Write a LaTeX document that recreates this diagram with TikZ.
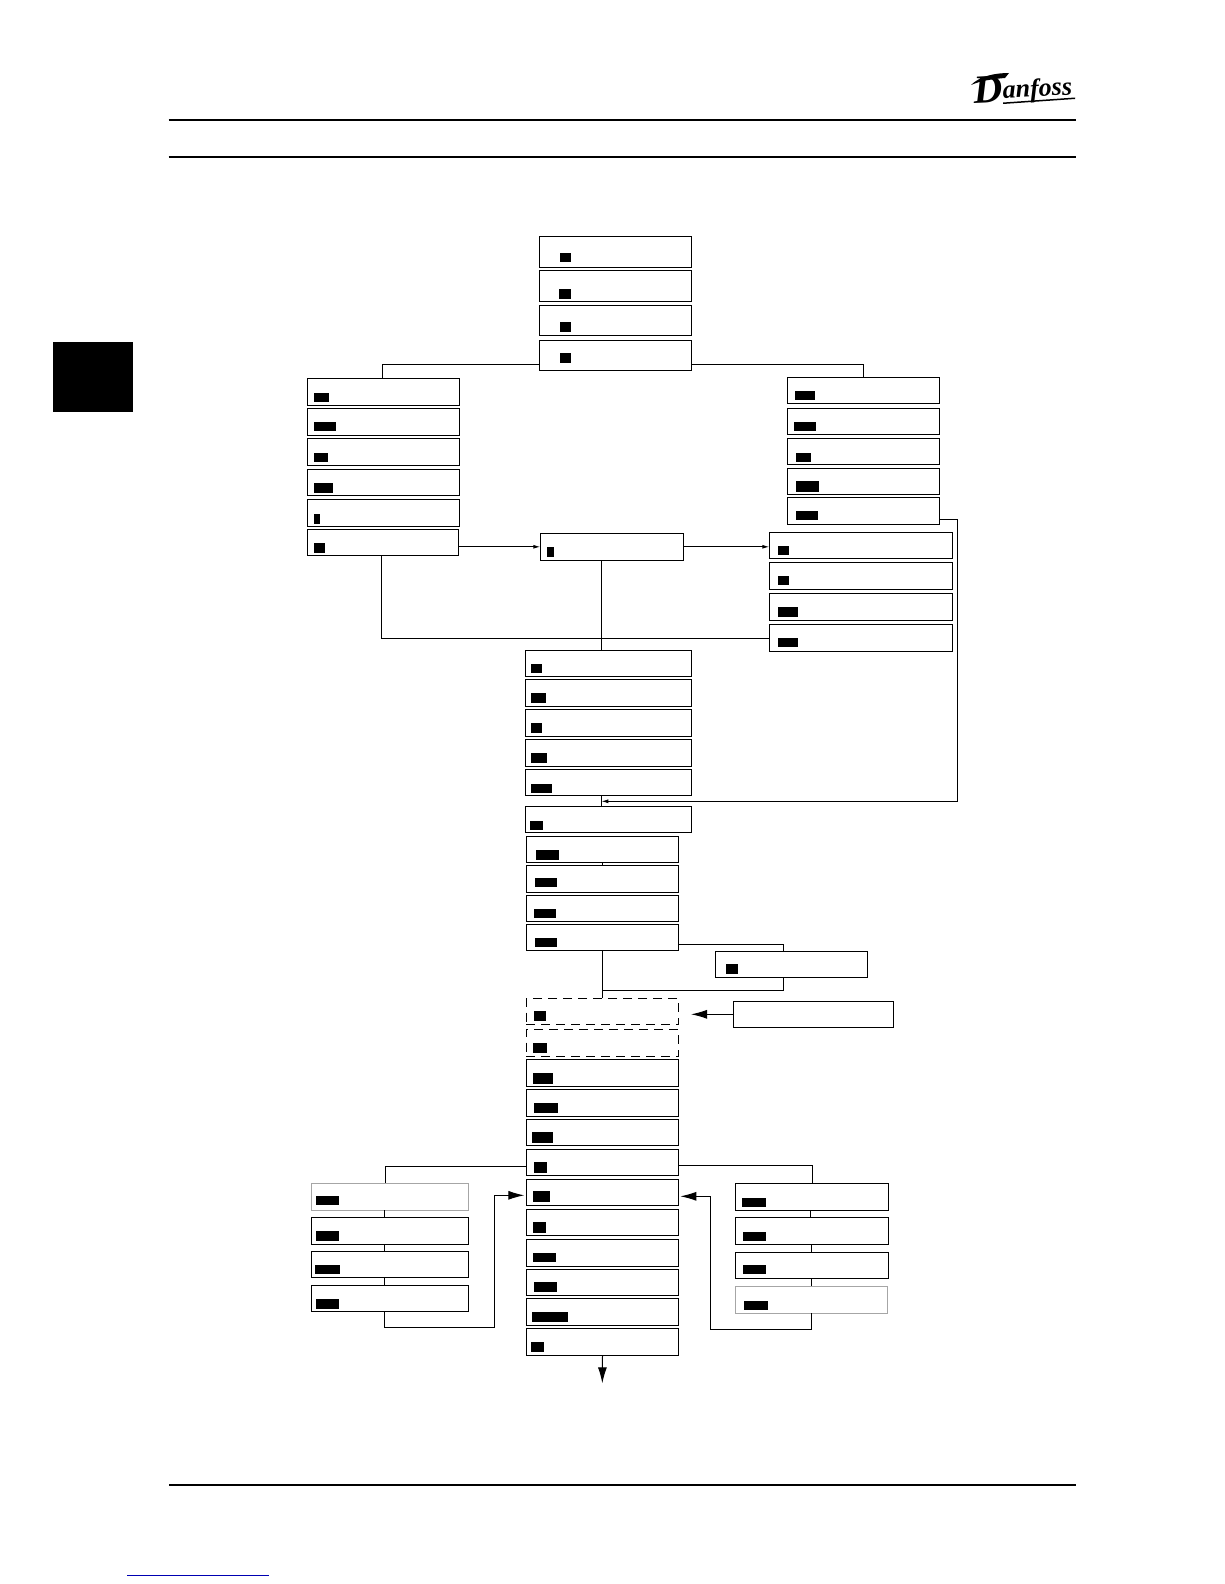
\documentclass[tikz,border=0pt]{standalone}
\usepackage{fontspec}
\usepackage{xcolor}
\usepackage{tikz}
\usetikzlibrary{arrows.meta,positioning}
\newfontfamily\logofont{Liberation Serif}

\begin{document}
\begin{tikzpicture}[
  x=1pt,y=-1pt,
  line width=1pt,
  box/.style={draw,inner sep=0pt,outer sep=0pt,minimum height=#1pt},
  topbox/.style={box=#1,minimum width=152.4pt},
  leftbox/.style={box=#1,minimum width=152.4pt},
  rightbox/.style={box=#1,minimum width=152pt},
  widebox/.style={box=#1,minimum width=183.4pt},
  midbox/.style={box=#1,minimum width=166.4pt},
  lowbox/.style={box=#1,minimum width=152.4pt},
  dashbox/.style={lowbox=#1,dash pattern=on 9pt off 6pt},
  bar/.style 2 args={fill=black,inner sep=0pt,outer sep=0pt,anchor=south west,minimum width=#1pt,minimum height=#2pt},
  small/.style={-{Latex[length=7pt,width=4pt]}},
  big/.style={-{Latex[length=16pt,width=9pt]}},
  rule/.style={line width=2pt}
]
\useasboundingbox (0,0) rectangle (1224,1584);
\node[fill=black,inner sep=0pt,anchor=north west,minimum width=80pt,minimum height=70pt] (tab) at (52,341) {};
\draw[rule] (168.7,120) -- (1076,120);
\draw[rule] (168.7,156.7) -- (1076,156.7);
\draw[rule] (169,1485) -- (1076,1485);
\draw[blue!70!black] (127,1575.3) -- (269,1575.3);
\node[inner sep=0pt,anchor=base west,rotate=3,font=\logofont\bfseries\itshape] (logo) at (974,104) {\fontsize{40}{40}\selectfont D\raisebox{4pt}{\fontsize{26}{26}\selectfont anfoss}};
\fill (971,85) .. controls (980,76) and (995,73) .. (1009,73) -- (1005,78) .. controls (992,79) and (980,81) .. (971,85) -- cycle;
\fill (1003,102.5) -- (1075,97.5) -- (1075,99) -- (1003,104) -- cycle;
\node[topbox=31.4,anchor=north west] (t1) at (539.3,236.3) {};
\node[topbox=31,below=2.6pt of t1] (t2) {};
\node[topbox=30,below=4pt of t2] (t3) {};
\node[topbox=30,below=5pt of t3] (t4) {};
\node[leftbox=27,anchor=north west] (l1) at (307.3,378.3) {};
\node[leftbox=27,below=3pt of l1] (l2) {};
\node[leftbox=27,below=3pt of l2] (l3) {};
\node[leftbox=26,below=4pt of l3] (l4) {};
\node[leftbox=27,below=4pt of l4] (l5) {};
\node[box=26,minimum width=151.4pt,below=3pt of l5,xshift=-0.5pt] (l6) {};
\node[rightbox=26,anchor=north west] (r1) at (787.3,377.3) {};
\node[rightbox=26,below=5pt of r1] (r2) {};
\node[rightbox=26,below=4pt of r2] (r3) {};
\node[rightbox=26,below=4pt of r3] (r4) {};
\node[rightbox=27,below=3pt of r4] (r5) {};
\node[box=27,minimum width=143.4pt,anchor=north west] (mbox) at (540.3,533.3) {};
\node[widebox=26,anchor=north west] (s1) at (769.3,532.3) {};
\node[widebox=27,below=4pt of s1] (s2) {};
\node[widebox=27,below=4pt of s2] (s3) {};
\node[widebox=27,below=4pt of s3] (s4) {};
\node[midbox=26,anchor=north west] (c1) at (525.3,650.3) {};
\node[midbox=27,below=3pt of c1] (c2) {};
\node[midbox=27,below=3pt of c2] (c3) {};
\node[midbox=27,below=3pt of c3] (c4) {};
\node[midbox=26,below=3pt of c4] (c5) {};
\node[midbox=26,below=11pt of c5] (c6) {};
\node[lowbox=26,anchor=north west] (d1) at (526.3,836.3) {};
\node[lowbox=27,below=3pt of d1] (d2) {};
\node[lowbox=26,below=3pt of d2] (d3) {};
\node[lowbox=26,below=3pt of d3] (d4) {};
\node[lowbox=26,anchor=north west] (e1) at (715.3,951.3) {};
\node[dashbox=26,anchor=north west] (f1) at (526.3,998.3) {};
\node[dashbox=27,below=5pt of f1] (f2) {};
\node[box=26,anchor=north west,minimum width=160.4pt] (note) at (733.3,1001.3) {};
\node[lowbox=27,below=3pt of f2] (g1) {};
\node[lowbox=27,below=3pt of g1] (g2) {};
\node[lowbox=26,below=3pt of g2] (g3) {};
\node[lowbox=26,below=4pt of g3] (g4) {};
\node[lowbox=26,below=4pt of g4] (g5) {};
\node[lowbox=26,below=4pt of g5] (g6) {};
\node[lowbox=27,below=4pt of g6] (g7) {};
\node[lowbox=26,below=3pt of g7] (g8) {};
\node[lowbox=27,below=3pt of g8] (g9) {};
\node[lowbox=27,below=3pt of g9] (g10) {};
\node[box=27,draw=black!35,minimum width=157.4pt,anchor=north west] (h1) at (311.3,1183.3) {};
\node[box=27,minimum width=157.4pt,below=7pt of h1] (h2) {};
\node[box=26,minimum width=157.4pt,below=7pt of h2] (h3) {};
\node[box=26,minimum width=157.4pt,below=8pt of h3] (h4) {};
\node[box=27,minimum width=153.4pt,anchor=north west] (j1) at (735.3,1183.3) {};
\node[box=27,minimum width=153.4pt,below=7pt of j1] (j2) {};
\node[box=26,minimum width=153.4pt,below=8pt of j2] (j3) {};
\node[box=27.3,draw=black!35,minimum width=152.4pt,below=7.7pt of j3,xshift=-0.5pt] (j4) {};
\node[bar={11}{9}] (t1b) at (560,262) {};
\node[bar={12}{10}] (t2b) at (559,299) {};
\node[bar={11}{10}] (t3b) at (560,332) {};
\node[bar={11}{10}] (t4b) at (560,363) {};
\node[bar={15}{9}] (l1b) at (314,402) {};
\node[bar={22}{9}] (l2b) at (314,431) {};
\node[bar={14}{9}] (l3b) at (314,462) {};
\node[bar={19}{10}] (l4b) at (314,493) {};
\node[bar={6}{10}] (l5b) at (314,524) {};
\node[bar={11}{10}] (l6b) at (314,553) {};
\node[bar={20}{9}] (r1b) at (795,400) {};
\node[bar={22}{9}] (r2b) at (794,431) {};
\node[bar={15}{9}] (r3b) at (796,462) {};
\node[bar={23}{11}] (r4b) at (796,492) {};
\node[bar={22}{9}] (r5b) at (796,520) {};
\node[bar={7}{10}] (mboxb) at (547,557) {};
\node[bar={11}{9}] (s1b) at (778,555) {};
\node[bar={11}{9}] (s2b) at (778,585) {};
\node[bar={20}{10}] (s3b) at (778,617) {};
\node[bar={20}{9}] (s4b) at (778,647) {};
\node[bar={11}{9}] (c1b) at (531,673) {};
\node[bar={15}{10}] (c2b) at (531,703) {};
\node[bar={11}{10}] (c3b) at (531,733) {};
\node[bar={16}{10}] (c4b) at (531,763) {};
\node[bar={21}{9}] (c5b) at (531,793) {};
\node[bar={13}{9}] (c6b) at (530,830) {};
\node[bar={23}{10}] (d1b) at (536,860) {};
\node[bar={22}{9}] (d2b) at (535,887) {};
\node[bar={22}{9}] (d3b) at (534,918) {};
\node[bar={22}{9}] (d4b) at (535,947) {};
\node[bar={12}{10}] (e1b) at (726,974) {};
\node[bar={12}{10}] (f1b) at (534,1021) {};
\node[bar={14}{10}] (f2b) at (533,1053) {};
\node[bar={20}{11}] (g1b) at (533,1084) {};
\node[bar={24}{10}] (g2b) at (534,1113) {};
\node[bar={21}{11}] (g3b) at (532,1143) {};
\node[bar={13}{11}] (g4b) at (534,1173) {};
\node[bar={17}{11}] (g5b) at (533,1202) {};
\node[bar={13}{11}] (g6b) at (533,1233) {};
\node[bar={23}{9}] (g7b) at (533,1262) {};
\node[bar={23}{10}] (g8b) at (534,1292) {};
\node[bar={36}{10}] (g9b) at (532,1322) {};
\node[bar={13}{10}] (g10b) at (531,1352) {};
\node[bar={23}{9}] (h1b) at (316,1205) {};
\node[bar={23}{10}] (h2b) at (316,1241) {};
\node[bar={25}{9}] (h3b) at (315,1274) {};
\node[bar={23}{10}] (h4b) at (316,1309) {};
\node[bar={24}{9}] (j1b) at (742,1207) {};
\node[bar={23}{9}] (j2b) at (743,1241) {};
\node[bar={23}{9}] (j3b) at (743,1274) {};
\node[bar={24}{9}] (j4b) at (744,1310) {};
\coordinate (join) at (601.3,801.3);
\coordinate (notetip) at (691,1014.3);
\coordinate (endtip) at (602.3,1383.3);
\draw ([yshift=6pt]t4.south west) -| ([xshift=-1.2pt]l1.north);
\draw ([yshift=6pt]t4.south east) -| ([xshift=-0.1pt]r1.north);
\draw[small] (l6.east |- mbox.west) -- (mbox.west);
\draw[small] (mbox.east) -- (s1.west |- mbox.east);
\draw ([xshift=-10.7pt]mbox.south) -- ([xshift=-7.2pt]c1.north);
\draw ([yshift=-14pt]s4.north west) -| ([xshift=-1.7pt]l6.south);
\draw[small] ([yshift=5pt]r5.south east) -- ++(18,0) |- (join);
\draw ([xshift=-7.2pt]c5.south) -- ([xshift=-7.2pt]c6.north);
\draw (d1.south) -- (d2.north);
\draw ([yshift=6pt]d4.south east) -| ([xshift=-8.2pt]e1.north);
\draw ([xshift=-8.2pt]e1.south) |- ([yshift=8pt]f1.north);
\draw (d4.south) -- (f1.north);
\draw[big] (note.west) -- (notetip);
\draw ([yshift=-17pt]g4.north west) -| ([xshift=-4.7pt]h1.north);
\draw ([yshift=-16pt]g4.north east) -| ([xshift=0.7pt]j1.north);
\draw ([xshift=-5.7pt]h1.south) -- ([xshift=-5.7pt]h2.north);
\draw ([xshift=-5.7pt]h2.south) -- ([xshift=-5.7pt]h3.north);
\draw ([xshift=-5.7pt]h3.south) -- ([xshift=-5.7pt]h4.north);
\draw ([xshift=-1.7pt]j1.south) -- ([xshift=-1.7pt]j2.north);
\draw ([xshift=-0.7pt]j2.south) -- ([xshift=-0.7pt]j3.north);
\draw ([xshift=-0.7pt]j3.south) -- ([xshift=-0.2pt]j4.north);
\draw[big] ([xshift=-5.7pt]h4.south) -- ++(0,16) -- ++(110,0) |- ([xshift=-2pt,yshift=-3pt]g5.west);
\draw[big] ([xshift=-0.2pt]j4.south) -- ++(0,16) -- ++(-101,0) |- ([xshift=1.6pt,yshift=-4pt]g5.east);
\draw[big] (g10.south) -- (endtip);
\end{tikzpicture}
\end{document}
